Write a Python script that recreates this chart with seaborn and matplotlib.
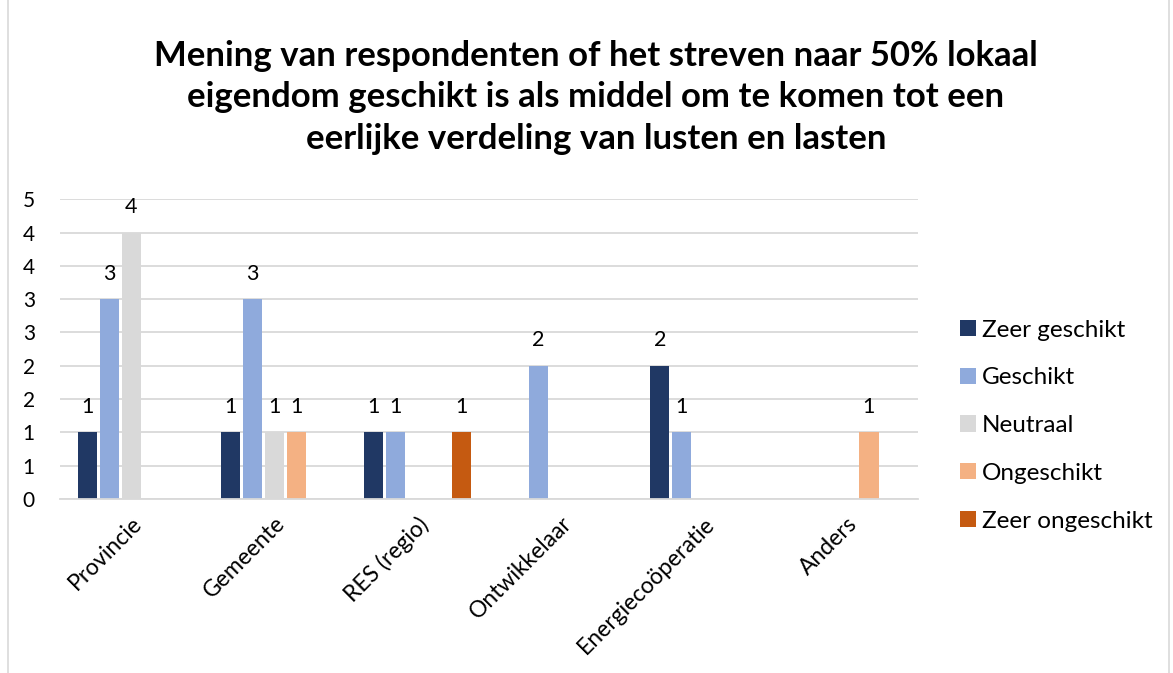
import numpy as np
import pandas as pd
import matplotlib.pyplot as plt
import seaborn as sns
from matplotlib.patches import Rectangle

categories = ["Provincie", "Gemeente", "RES (regio)", "Ontwikkelaar", "Energiecoöperatie", "Anders"]
series = ["Zeer geschikt", "Geschikt", "Neutraal", "Ongeschikt", "Zeer ongeschikt"]
zeer_geschikt = [1, 1, 1, 0, 2, 0]
geschikt = [3, 3, 1, 2, 1, 0]
neutraal = [4, 1, 0, 0, 0, 0]
ongeschikt = [0, 1, 0, 0, 0, 1]
zeer_ongeschikt = [0, 0, 1, 0, 0, 0]
colors = ["#203864", "#8FAADC", "#D9D9D9", "#F4B183", "#C55A11"]
ytick_labels = ["0", "1", "1", "2", "2", "3", "3", "4", "4", "5"]

title = ("Mening van respondenten of het streven naar 50% lokaal\n"
         "eigendom geschikt is als middel om te komen tot een\n"
         "eerlijke verdeling van lusten en lasten")

# long format, zeros are empty cells in the source
rows = []
for name, vals in zip(series, [zeer_geschikt, geschikt, neutraal, ongeschikt, zeer_ongeschikt]):
    for cat, v in zip(categories, vals):
        rows.append({"Categorie": cat, "Reeks": name, "Aantal": v if v > 0 else np.nan})
df = pd.DataFrame(rows)

sns.set_theme(style="white")
plt.rcParams['font.family'] = ['Lato', 'DejaVu Sans']
plt.rcParams['text.color'] = 'black'
plt.rcParams['xtick.color'] = 'black'
plt.rcParams['ytick.color'] = 'black'

fig = plt.figure(figsize=(11.73, 6.73), dpi=100)
ax = fig.add_axes([0.051, 0.2585, 0.732, 0.4455])

sns.barplot(data=df, x="Categorie", y="Aantal", hue="Reeks", hue_order=series,
            order=categories, palette=colors, width=0.77, gap=0.12, ax=ax,
            saturation=1, errorbar=None, linewidth=0)

for cont in ax.containers:
    labels = ["" if np.isnan(v) else f"{v:.0f}" for v in cont.datavalues]
    ax.bar_label(cont, labels=labels, padding=11, fontsize=15.5, color="black")

ax.set_ylim(0, 4.5)
ax.set_yticks(np.arange(0, 4.51, 0.5))
ax.set_yticklabels(ytick_labels, fontsize=15)
ax.set_xlim(-0.5, len(categories) - 0.5)
ax.set_xticks(range(len(categories)))
ax.set_xticklabels(categories, rotation=45, ha="right", rotation_mode="anchor", fontsize=16.5)
ax.set_xlabel("")
ax.set_ylabel("")
ax.grid(axis="y", color="#D9D9D9", linewidth=1.3)
ax.set_axisbelow(True)
for s in ["top", "right", "left"]:
    ax.spines[s].set_visible(False)
ax.spines["bottom"].set_color("#D9D9D9")
ax.spines["bottom"].set_linewidth(1.3)
ax.tick_params(axis="both", length=0, pad=10)
ax.tick_params(axis="y", pad=18)

handles, labs = ax.get_legend_handles_labels()
ax.legend(handles, labs, loc="center left", bbox_to_anchor=(1.023, 0.245),
          frameon=False, fontsize=17.5, handlelength=0.66, handleheight=0.66,
          handletextpad=0.25, labelspacing=1.1)

fig.text(0.508, 0.94, title, ha="center", va="top", fontsize=25, fontweight="bold",
         linespacing=1.35)

fig.patches.append(Rectangle((0.007, -0.01), 0.99, 1.02, transform=fig.transFigure,
                             fill=False, edgecolor="#D9D9D9", linewidth=1.2))

fig.savefig("out.png", dpi=100)
